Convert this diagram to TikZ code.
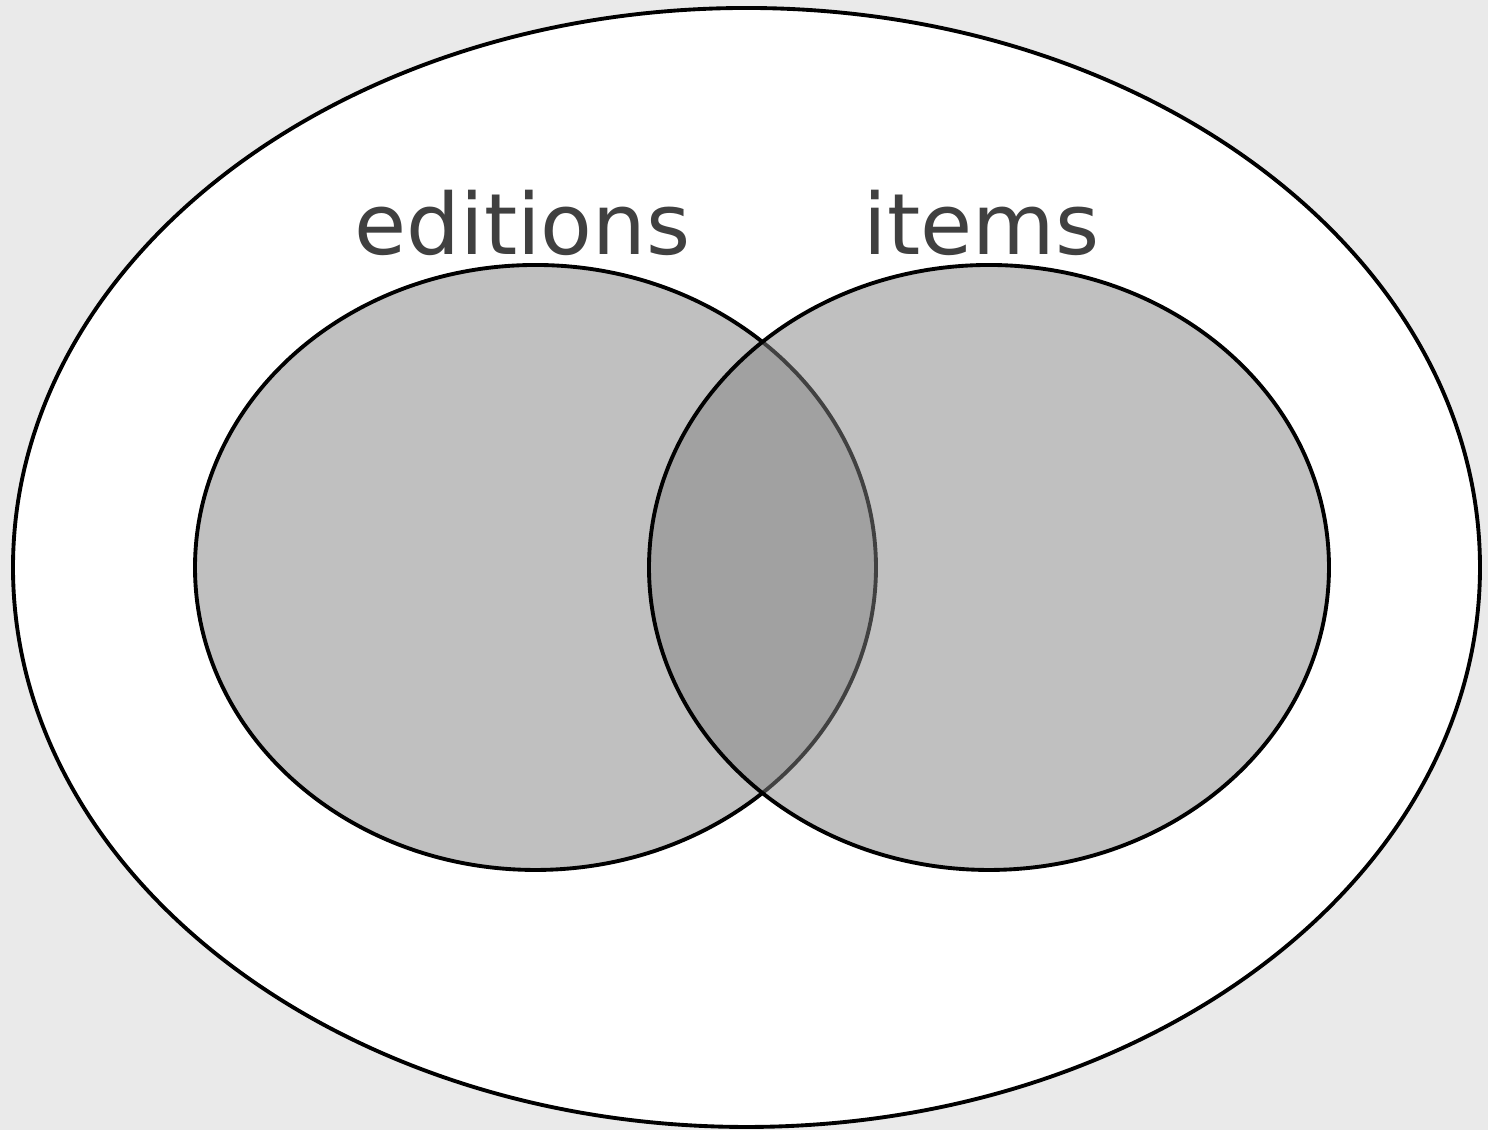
\documentclass[tikz,border=0pt]{standalone}
\usepackage{fontspec}
\setmainfont{DejaVu Sans}
\usetikzlibrary{positioning}
\definecolor{bggray}{RGB}{234,234,234}
\definecolor{setgray}{RGB}{131,131,131}
\definecolor{labelgray}{RGB}{64,64,64}

\tikzset{
  setfill/.style={fill=setgray, fill opacity=0.5, draw=black, line width=1.1pt},
  setlabel/.style={anchor=base, text=labelgray, inner sep=0pt, font=\fontsize{24.1}{29}\selectfont}
}

\begin{document}
\begin{tikzpicture}
    % background and universe
    \fill[bggray] (0,0) rectangle (14.88,11.30);
    \useasboundingbox (0,0) rectangle (14.88,11.30);
    \draw[fill=white, line width=1.1pt] (7.465,5.625) ellipse (7.335 and 5.595);

    % the two sets
    \draw[setfill] (5.355,5.625) ellipse (3.405 and 3.025);
    \draw[setfill] (9.89,5.625) ellipse (3.40 and 3.025);

    % labels
    \node[setlabel] (editions) at (5.225,8.75) {editions};
    \node[setlabel] (items) at (9.815,8.75) {items};
\end{tikzpicture}
\end{document}
